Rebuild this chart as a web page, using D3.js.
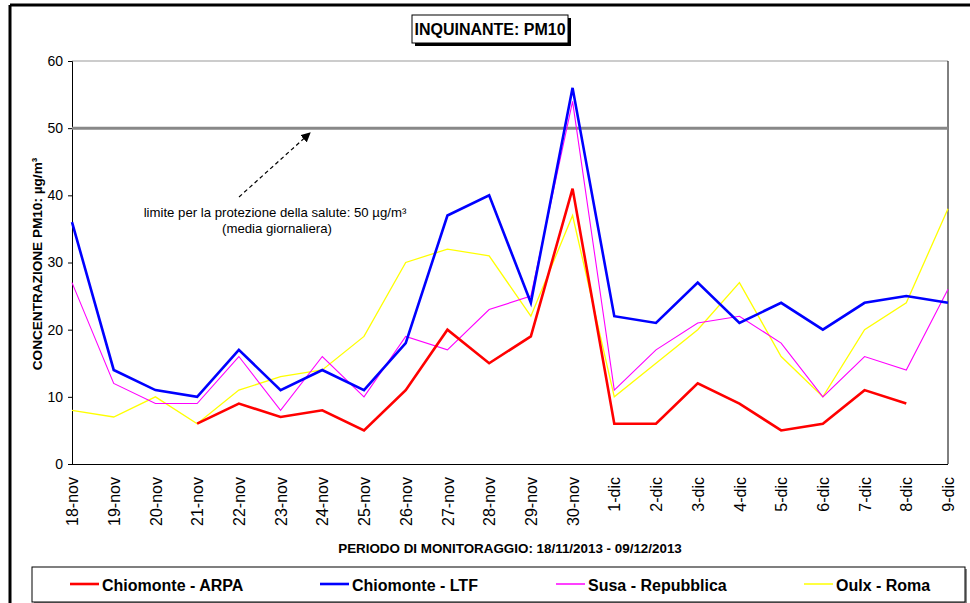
<!DOCTYPE html>
<html>
<head>
<meta charset="utf-8">
<script src="https://cdn.jsdelivr.net/npm/d3@7"></script>
<style>
body { margin: 0; background: #fff; }
svg { font-family: "Liberation Sans", Arial, sans-serif; }
</style>
</head>
<body>
<svg id="chart" width="970" height="603"></svg>
<script>
// categories
var days = ["18-nov","19-nov","20-nov","21-nov","22-nov","23-nov","24-nov","25-nov","26-nov","27-nov","28-nov","29-nov","30-nov",
	"1-dic","2-dic","3-dic","4-dic","5-dic","6-dic","7-dic","8-dic","9-dic"];

// series values (null = no data)
var arpa = [null,null,null,6,9,7,8,5,11,20,15,19,41,6,6,12,9,5,6,11,9,null];
var ltf = [36,14,11,10,17,11,14,11,18,37,40,24,56,22,21,27,21,24,20,24,25,24];
var susa = [27,12,9,9,16,8,16,10,19,17,23,25,54,11,17,21,22,18,10,16,14,26];
var oulx = [8,7,10,6,11,13,14,19,30,32,31,22,37,10,15,20,27,16,10,20,24,38];

var yTicks = [0,10,20,30,40,50,60];
var limite = 50;

var series = [
	{ name: "Chiomonte - ARPA", values: arpa, color: "#ff0000", width: 2.6 },
	{ name: "Chiomonte - LTF", values: ltf, color: "#0000ff", width: 2.6 },
	{ name: "Susa - Repubblica", values: susa, color: "#ff00ff", width: 1.1 },
	{ name: "Oulx - Roma", values: oulx, color: "#ffff00", width: 1.3 }
];

var svg = d3.select("#chart");
var pLeft = 72, pRight = 948, pTop = 61, pBottom = 464;

var x = d3.scalePoint().domain(days).range([pLeft, pRight]);
var y = d3.scaleLinear().domain([0, 60]).range([pBottom, pTop]);

// outer frame
svg.append("line").attr("x1", 10).attr("x2", 970).attr("y1", 5).attr("y2", 5)
	.attr("stroke", "#000").attr("stroke-width", 3);
svg.append("line").attr("x1", 10).attr("x2", 10).attr("y1", 5).attr("y2", 603)
	.attr("stroke", "#000").attr("stroke-width", 3);

// plot box
svg.append("line").attr("x1", pLeft).attr("x2", pRight).attr("y1", pTop).attr("y2", pTop)
	.attr("stroke", "#999").attr("stroke-width", 1);
svg.append("line").attr("x1", pRight).attr("x2", pRight).attr("y1", pTop).attr("y2", pBottom)
	.attr("stroke", "#000").attr("stroke-width", 1);

// y axis
var yAxis = d3.axisLeft(y).tickValues(yTicks).tickSize(4).tickPadding(5);
var gy = svg.append("g").attr("transform", "translate(" + pLeft + ",0)").call(yAxis);
gy.select(".domain").attr("stroke", "#000");
gy.selectAll("text").attr("font-size", 14).attr("fill", "#000")
	.attr("font-family", "Liberation Sans, Arial, sans-serif");

// x axis
var xAxis = d3.axisBottom(x).tickSize(0).tickPadding(0);
var gx = svg.append("g").attr("transform", "translate(0," + pBottom + ")").call(xAxis);
gx.select(".domain").attr("stroke", "#000").attr("d", "M" + pLeft + ",0.5H" + pRight);
gx.selectAll("text")
	.attr("font-size", 16).attr("fill", "#000")
	.attr("font-family", "Liberation Sans, Arial, sans-serif")
	.attr("text-anchor", "end")
	.attr("dy", "0.35em")
	.attr("transform", "translate(0,13) rotate(-90)")
	.attr("y", 0).attr("x", 0);

// limit line
svg.append("line")
	.attr("x1", pLeft).attr("x2", pRight)
	.attr("y1", y(limite)).attr("y2", y(limite))
	.attr("stroke", "#888").attr("stroke-width", 3);

// series lines
var line = d3.line()
	.defined(function(d) { return d != null; })
	.x(function(d, i) { return x(days[i]); })
	.y(function(d) { return y(d); });

// draw thin ones first so thick lines are on top like the original
[3, 2, 0, 1].forEach(function(k) {
	var s = series[k];
	svg.append("path")
		.datum(s.values)
		.attr("fill", "none")
		.attr("stroke", s.color)
		.attr("stroke-width", s.width)
		.attr("stroke-linejoin", "miter")
		.attr("d", line);
});

// annotation arrow
svg.append("defs").append("marker")
	.attr("id", "arrow").attr("viewBox", "0 0 10 10")
	.attr("refX", 9).attr("refY", 5)
	.attr("markerWidth", 8).attr("markerHeight", 8)
	.attr("orient", "auto")
	.append("path").attr("d", "M0,0L10,5L0,10z").attr("fill", "#000");

svg.append("line")
	.attr("x1", 239).attr("y1", 197).attr("x2", 310).attr("y2", 133)
	.attr("stroke", "#000").attr("stroke-width", 1.2)
	.attr("stroke-dasharray", "4,3")
	.attr("marker-end", "url(#arrow)");

svg.append("text").attr("x", 275).attr("y", 217)
	.attr("text-anchor", "middle").attr("font-size", 13.2).attr("fill", "#000")
	.text("limite per la protezione della salute: 50 µg/m³");
svg.append("text").attr("x", 277).attr("y", 233)
	.attr("text-anchor", "middle").attr("font-size", 13.2).attr("fill", "#000")
	.text("(media giornaliera)");

// title box
var tb = { x: 412, y: 15, w: 156, h: 28 };
svg.append("rect").attr("x", tb.x + 3).attr("y", tb.y + 3).attr("width", tb.w).attr("height", tb.h)
	.attr("fill", "#000");
svg.append("rect").attr("x", tb.x).attr("y", tb.y).attr("width", tb.w).attr("height", tb.h)
	.attr("fill", "#fff").attr("stroke", "#000").attr("stroke-width", 1);
svg.append("text").attr("x", tb.x + tb.w / 2).attr("y", tb.y + 20)
	.attr("text-anchor", "middle").attr("font-size", 16).attr("font-weight", "bold")
	.text("INQUINANTE: PM10");

// axis titles
svg.append("text")
	.attr("transform", "translate(42,264) rotate(-90)")
	.attr("text-anchor", "middle").attr("font-size", 13.6).attr("font-weight", "bold")
	.text("CONCENTRAZIONE PM10: µg/m³");

svg.append("text")
	.attr("x", (pLeft + pRight) / 2).attr("y", 553)
	.attr("text-anchor", "middle").attr("font-size", 13.4).attr("font-weight", "bold")
	.text("PERIODO DI MONITORAGGIO: 18/11/2013 - 09/12/2013");

// legend
svg.append("rect").attr("x", 34).attr("y", 569).attr("width", 933).attr("height", 35)
	.attr("fill", "#888");
svg.append("rect").attr("x", 32).attr("y", 567).attr("width", 933).attr("height", 35)
	.attr("fill", "#fff").attr("stroke", "#000").attr("stroke-width", 1);

var legendX = [70, 320, 556, 804];
var lg = svg.selectAll(".lg").data(series).enter().append("g")
	.attr("transform", function(d, i) { return "translate(" + legendX[i] + ",584)"; });
lg.append("line").attr("x1", 0).attr("x2", 29).attr("y1", 0).attr("y2", 0)
	.attr("stroke", function(d) { return d.color; })
	.attr("stroke-width", function(d) { return d.width > 2 ? 2.6 : 1.5; });
lg.append("text").attr("x", 32).attr("y", 6.5)
	.attr("font-size", 16).attr("font-weight", "bold")
	.text(function(d) { return d.name; });
</script>
</body>
</html>
